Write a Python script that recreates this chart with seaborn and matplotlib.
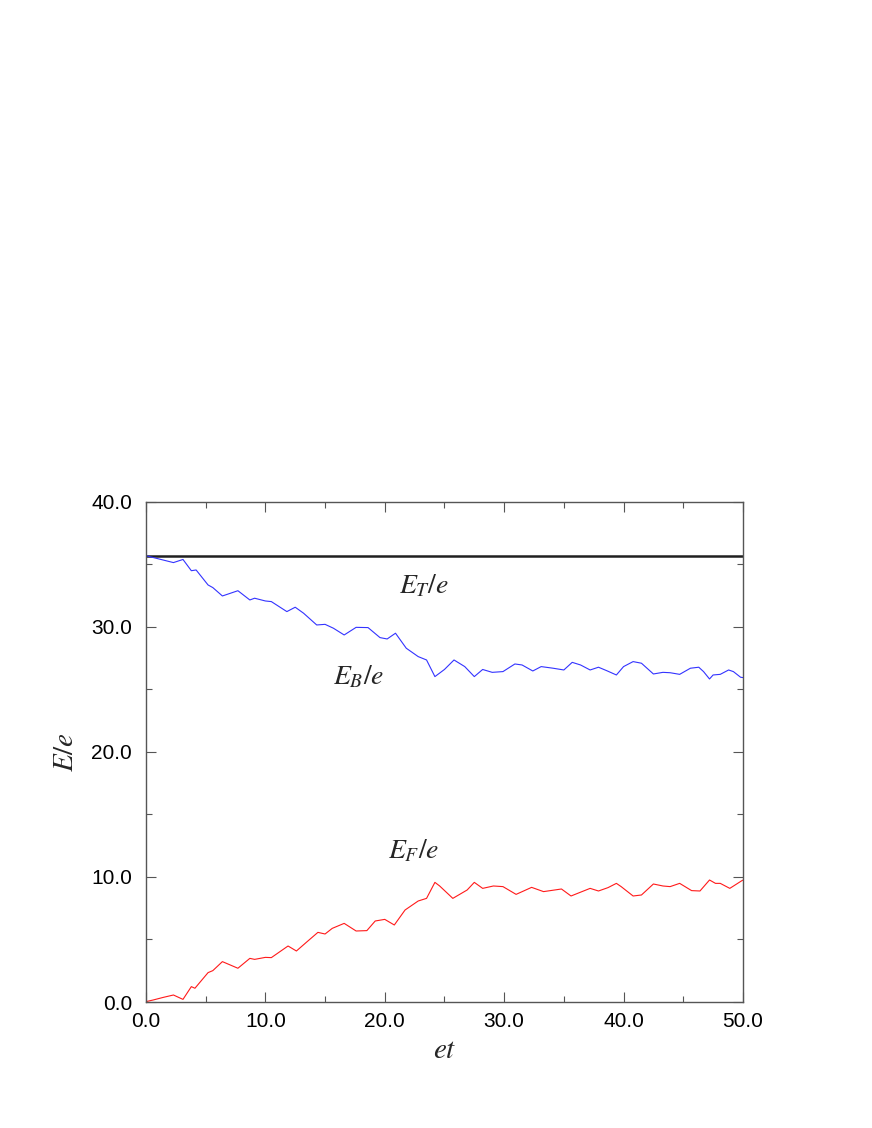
import matplotlib
matplotlib.use("Agg")
import matplotlib.pyplot as plt
from matplotlib.ticker import MultipleLocator, FormatStrFormatter
import seaborn as sns
import pandas as pd

# Bulk energy E_B/e
t_bulk = [0.0, 2.3, 3.1, 3.8, 4.2, 5.2, 5.6, 6.4, 7.7, 8.7, 9.1, 10.0, 10.5,
          11.8, 12.5, 13.2, 14.3, 15.0, 15.7, 16.6, 17.6, 18.6, 19.6, 20.2,
          20.9, 21.8, 22.8, 23.5, 24.2, 25.0, 25.8, 26.7, 27.5, 28.2, 29.0,
          29.9, 30.9, 31.5, 32.4, 33.1, 34.1, 35.0, 35.7, 36.4, 37.2, 37.9,
          38.6, 39.4, 40.0, 40.8, 41.5, 42.5, 43.3, 43.9, 44.7, 45.6, 46.3,
          46.7, 47.2, 47.5, 48.1, 48.8, 49.2, 49.8, 50.0]
e_bulk = [35.7, 35.15, 35.4, 34.5, 34.56, 33.36, 33.15, 32.48, 32.9, 32.16,
          32.3, 32.08, 32.03, 31.23, 31.58, 31.1, 30.16, 30.21, 29.9, 29.36,
          29.97, 29.95, 29.15, 29.04, 29.5, 28.3, 27.63, 27.36, 26.03, 26.6,
          27.36, 26.83, 26.03, 26.6, 26.37, 26.43, 27.04, 26.96, 26.48, 26.83,
          26.7, 26.56, 27.17, 26.96, 26.56, 26.78, 26.5, 26.16, 26.83, 27.23,
          27.1, 26.24, 26.37, 26.34, 26.21, 26.7, 26.78, 26.43, 25.84, 26.16,
          26.21, 26.56, 26.43, 25.98, 25.95]

# Field energy E_F/e
t_field = [0.0, 0.6, 1.45, 2.3, 3.1, 3.8, 4.1, 5.2, 5.6, 6.4, 7.7, 8.7, 9.1,
           10.0, 10.5, 11.9, 12.6, 13.5, 14.4, 15.0, 15.6, 16.6, 17.6, 18.5,
           19.2, 20.0, 20.8, 21.7, 22.8, 23.5, 24.2, 24.6, 25.7, 26.9, 27.5,
           28.2, 29.1, 29.9, 31.0, 32.3, 33.3, 34.8, 35.6, 37.2, 37.9, 38.7,
           39.4, 39.8, 40.8, 41.5, 42.5, 43.3, 43.9, 44.7, 45.7, 46.4, 47.2,
           47.7, 48.1, 48.9, 49.9, 50.0]
e_field = [0.03, 0.16, 0.37, 0.56, 0.21, 1.23, 1.1, 2.35, 2.51, 3.23, 2.7,
           3.49, 3.41, 3.57, 3.55, 4.48, 4.08, 4.83, 5.57, 5.44, 5.89, 6.29,
           5.68, 5.71, 6.48, 6.61, 6.16, 7.36, 8.08, 8.29, 9.57, 9.28, 8.29,
           8.96, 9.57, 9.09, 9.28, 9.23, 8.61, 9.17, 8.83, 9.04, 8.48, 9.09,
           8.88, 9.15, 9.49, 9.23, 8.48, 8.56, 9.44, 9.28, 9.23, 9.49, 8.91,
           8.88, 9.76, 9.49, 9.49, 9.09, 9.7, 9.75]

# Total energy E_T/e stays flat
t_total = [0.0, 50.0]
e_total = [35.68, 35.68]

labels = ["$E_T/e$", "$E_B/e$", "$E_F/e$"]
label_pos = [(23.3, 32.7), (17.8, 25.4), (22.4, 11.5)]

sns.set_style("ticks")
plt.rcParams["font.family"] = ["Liberation Sans", "DejaVu Sans"]
plt.rcParams["mathtext.fontset"] = "stix"

fig = plt.figure(figsize=(8.72, 11.28), dpi=100)
ax = fig.add_axes([0.1674, 0.1117, 0.6846, 0.4433])

sns.lineplot(data=pd.DataFrame({"t": t_total, "E": e_total}), x="t", y="E",
             ax=ax, color="#202020", linewidth=1.8, estimator=None)
sns.lineplot(data=pd.DataFrame({"t": t_bulk, "E": e_bulk}), x="t", y="E",
             ax=ax, color="#3333ff", linewidth=0.8, estimator=None)
sns.lineplot(data=pd.DataFrame({"t": t_field, "E": e_field}), x="t", y="E",
             ax=ax, color="#ff1a1a", linewidth=0.8, estimator=None)

for txt, (x, y) in zip(labels, label_pos):
    ax.text(x, y, txt, fontsize=20, ha="center", va="baseline")

ax.set_xlim(0, 50)
ax.set_ylim(0, 40)
ax.xaxis.set_major_locator(MultipleLocator(10))
ax.xaxis.set_minor_locator(MultipleLocator(5))
ax.yaxis.set_major_locator(MultipleLocator(10))
ax.yaxis.set_minor_locator(MultipleLocator(5))
ax.xaxis.set_major_formatter(FormatStrFormatter("%.1f"))
ax.yaxis.set_major_formatter(FormatStrFormatter("%.1f"))
ax.tick_params(which="both", direction="in", top=True, right=True,
               labelsize=15, colors="#555555", labelcolor="black", width=0.8)
ax.tick_params(which="major", length=7)
ax.tick_params(which="minor", length=4)
ax.tick_params(axis="x", which="major", pad=7)
ax.tick_params(axis="y", which="major", pad=10)
for s in ax.spines.values():
    s.set_visible(True)
    s.set_color("#555555")
    s.set_linewidth(1.0)

ax.set_xlabel("$et$", fontsize=21, labelpad=4)
ax.set_ylabel("$E/e$", fontsize=21, labelpad=9)

fig.savefig("out.png", dpi=100)
